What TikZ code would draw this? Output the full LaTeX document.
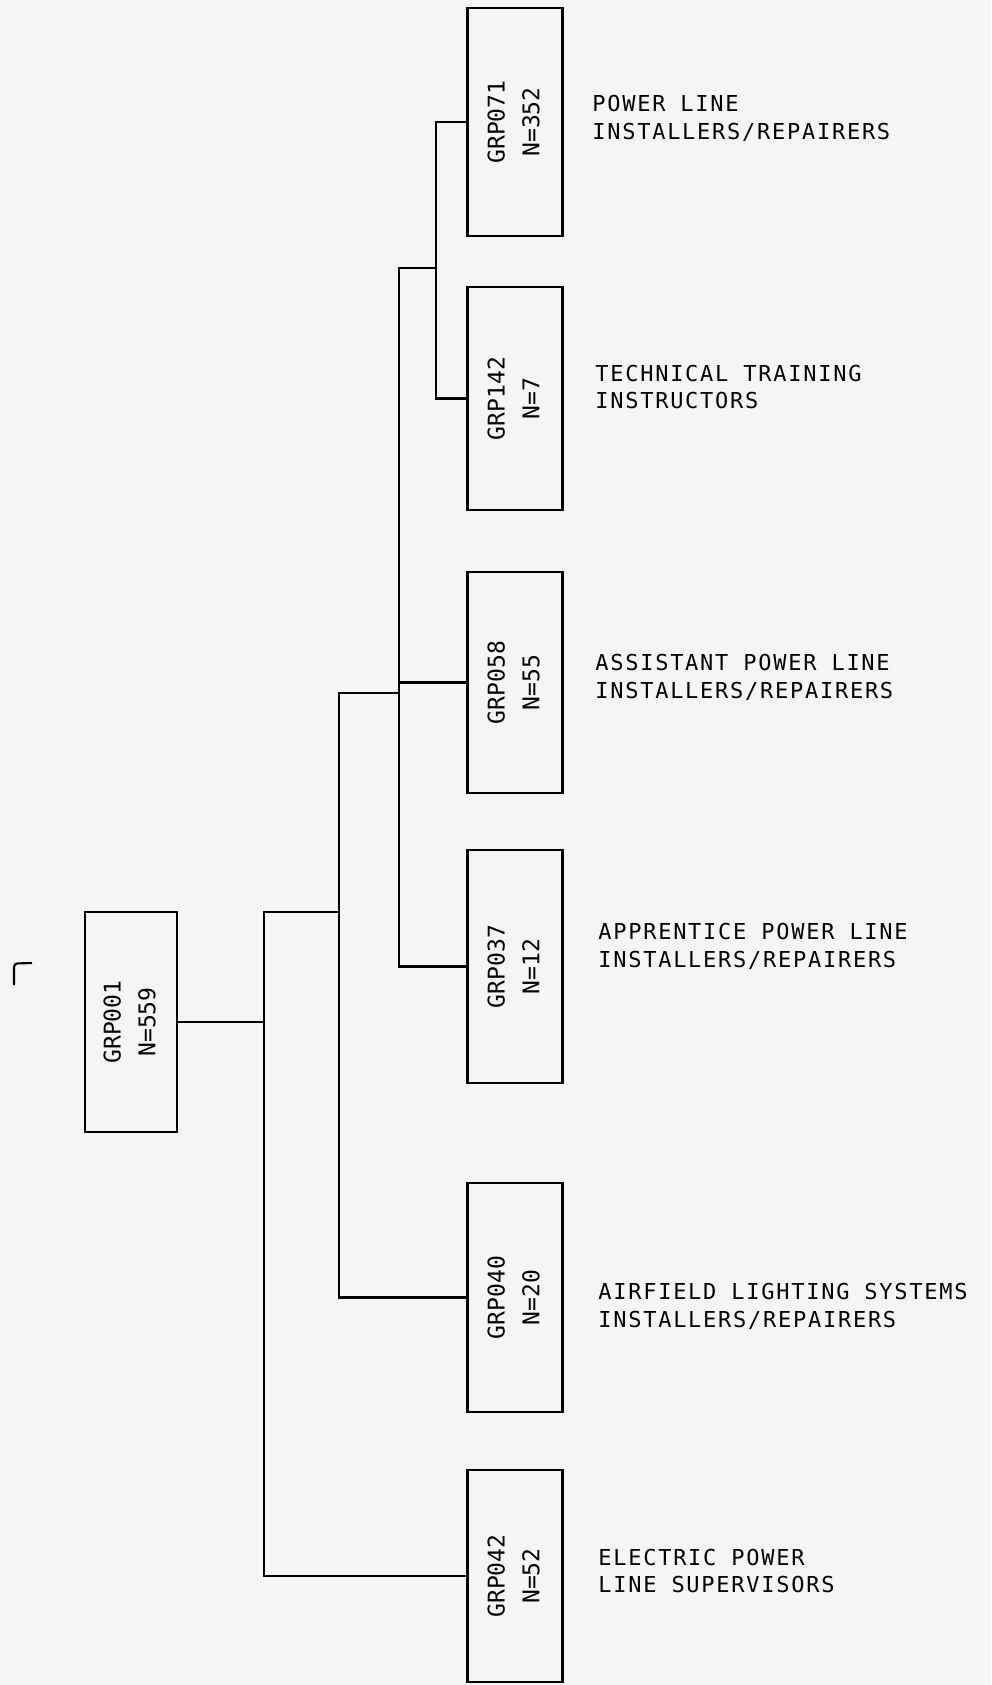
\documentclass[tikz,border=0pt]{standalone}
\usepackage{fontspec}
\usepackage{graphicx}
\usepackage{tikz}
\usetikzlibrary{positioning,calc}
\newfontfamily\boxfont{DejaVu Sans Mono}
\newfontfamily\labfont[LetterSpace=8]{DejaVu Sans Mono}
\newcommand{\grp}[2]{\rotatebox{90}{\begin{tabular}{@{}c@{}}#1\\N=#2\end{tabular}}}

\begin{document}
\begin{tikzpicture}[
  grp/.style={draw, line width=1.3pt, minimum width=19mm, inner sep=0pt,
              font=\fontsize{13.1}{19.9}\boxfont},
  lab/.style={anchor=west, align=left, inner sep=0pt,
              font=\fontsize{12.5}{15.9}\labfont},
  link/.style={line width=1.3pt},
]
\useasboundingbox[fill=white!96!black] (0,0) rectangle (19.82,-33.7);

% --- groups ---
\node[grp, minimum width=18.4mm, minimum height=44mm] (g001) at (2.62,-20.44) {\grp{GRP001}{559}};
\node[grp, minimum height=45.6mm] (g071) at (10.30,-2.44)  {\grp{GRP071}{352}};
\node[grp, minimum height=44.6mm] (g142) at (10.30,-7.97)  {\grp{GRP142}{7}};
\node[grp, minimum height=44.2mm] (g058) at (10.30,-13.65) {\grp{GRP058}{55}};
\node[grp, minimum height=46.6mm] (g037) at (10.30,-19.33) {\grp{GRP037}{12}};
\node[grp, minimum height=45.8mm] (g040) at (10.30,-25.95) {\grp{GRP040}{20}};
\node[grp, minimum height=42.4mm] (g042) at (10.30,-31.52) {\grp{GRP042}{52}};

% --- job titles ---
\node[lab] (l071) at (11.84,-2.36)  {POWER LINE\\ INSTALLERS/REPAIRERS};
\node[lab] (l142) at (11.90,-7.74)  {TECHNICAL TRAINING\\INSTRUCTORS};
\node[lab] (l058) at (11.90,-13.54) {ASSISTANT POWER LINE\\INSTALLERS/REPAIRERS};
\node[lab] (l037) at (11.96,-18.92) {APPRENTICE POWER LINE\\INSTALLERS/REPAIRERS};
\node[lab] (l040) at (11.96,-26.12) {AIRFIELD LIGHTING SYSTEMS\\INSTALLERS/REPAIRERS};
\node[lab] (l042) at (11.96,-31.42) {ELECTRIC POWER\\LINE SUPERVISORS};

% --- tree ---
\coordinate (t1) at (5.28,-18.24);
\coordinate (t2) at (6.78,-13.86);
\coordinate (t3) at (7.98,-5.36);
\coordinate (t4) at (8.72,-5.36);
\draw[link] (g001) -- (g001 -| t1);
\draw[link] (g042) -| (t1) -- (t1 -| t2);
\draw[link] (g040) -| (t2) -- (t2 -| t3);
\draw[link] (g037) -| (t3) -- (t4);
\draw[link] (g058) -- (g058 -| t3);
\draw[link] (g071) -| (t4) |- (g142);

% stray mark
\draw[line width=1.2pt, rounded corners=2pt] (0.28,-19.7) -- (0.28,-19.27) -- (0.64,-19.26);
\end{tikzpicture}
\end{document}
